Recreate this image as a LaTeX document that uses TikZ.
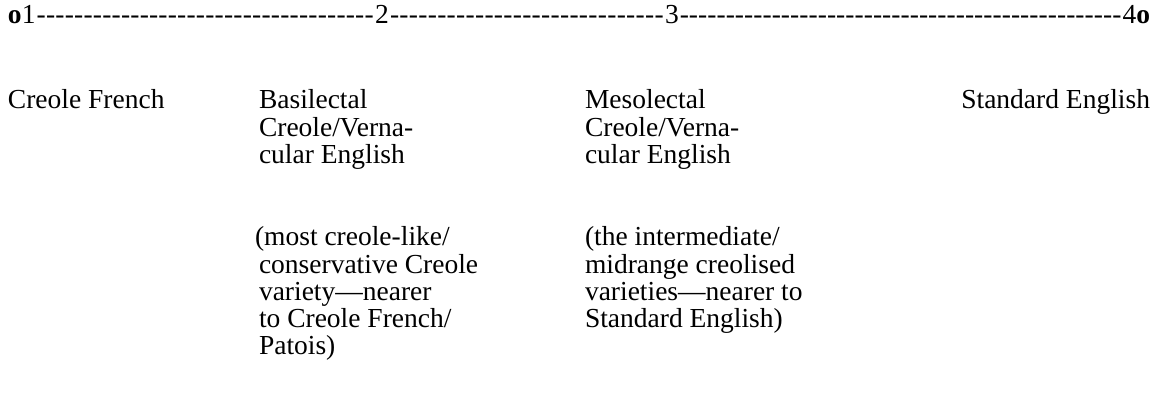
\documentclass[tikz,border=0pt]{standalone}
\usepackage{fontspec}
\setmainfont{Liberation Serif}
\usetikzlibrary{calc}
\tikzset{
  lbl/.style={anchor=base west, inner sep=0pt, outer sep=0pt, font=\fontsize{27.5}{27}\selectfont},
  num/.style={anchor=base west, inner sep=0pt, outer sep=0pt, font=\fontsize{27.5}{27}\selectfont},
}
\newcommand{\dashfill}[1]{\makebox[#1]{\xleaders\hbox{-}\hfill}}
\newcommand{\stack}[1]{\begin{tabular}[t]{@{}l@{}}#1\end{tabular}}
\begin{document}
\begin{tikzpicture}[x=1pt,y=1pt]
\useasboundingbox (0,0) rectangle (1163,-411);
% scale row
\node[num] (p1) at (8,-24) {\textbf{o}1};
\node[num] (p2) at (375,-24) {2};
\node[num] (p3) at (665,-24) {3};
\node[num, anchor=base east] (p4) at (1150,-24) {4\textbf{o}};
\path let \p1=(p1.base east), \p2=(p2.base west) in
  node[num] (d1) at ($(\p1)+(1,0)$) {\dashfill{\dimexpr\x2-\x1-2pt\relax}};
\path let \p1=(p2.base east), \p2=(p3.base west) in
  node[num] (d2) at ($(\p1)+(1,0)$) {\dashfill{\dimexpr\x2-\x1-2pt\relax}};
\path let \p1=(p3.base east), \p2=(p4.base west) in
  node[num] (d3) at ($(\p1)+(1,0)$) {\dashfill{\dimexpr\x2-\x1-2pt\relax}};
% varieties
\node[lbl] (cf) at (8,-109) {Creole French};
\node[lbl] (bas) at (259,-109) {\stack{Basilectal\\Creole/Verna-\\cular English}};
\node[lbl] (mes) at (585,-109) {\stack{Mesolectal\\Creole/Verna-\\cular English}};
\node[lbl, anchor=base east] (se) at (1150,-109) {Standard English};
% descriptions
\node[lbl] (basd) at (255,-246) {\stack{(most creole-like/\\\hspace*{4pt}conservative Creole\\\hspace*{4pt}variety---nearer\\\hspace*{4pt}to Creole French/\\\hspace*{4pt}Patois)}};
\node[lbl] (mesd) at (585,-246) {\stack{(the intermediate/\\midrange creolised\\varieties---nearer to\\Standard English)}};
\end{tikzpicture}
\end{document}
